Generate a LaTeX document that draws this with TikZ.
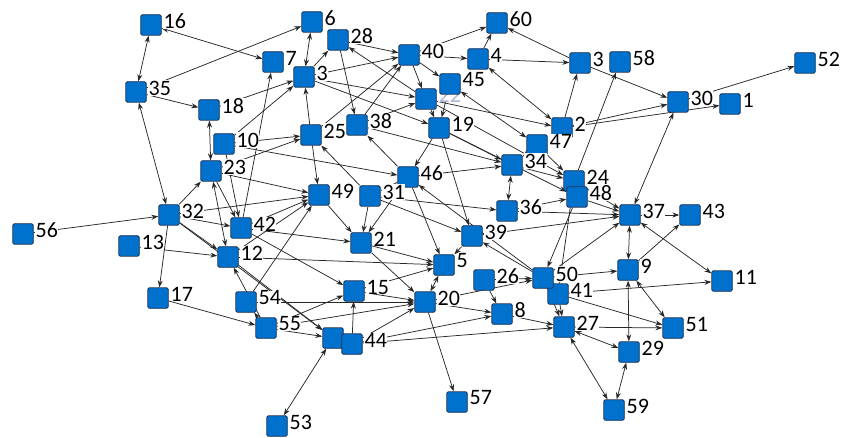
\documentclass[tikz,border=0pt]{standalone}
\usepackage{fontspec}
\setmainfont{Carlito}
\usetikzlibrary{arrows.meta}
\pgfdeclarelayer{bg}
\pgfsetlayers{bg,main}
\definecolor{nodeblue}{RGB}{0,114,206}
\definecolor{nodeedge}{RGB}{30,50,80}
\definecolor{edgecol}{RGB}{40,40,40}
\definecolor{faint}{RGB}{170,185,210}
\newcommand\nd[4]{\node[sq,label={[lab]0:#4}] (#1) at (#2,#3) {};}
\begin{document}
\begin{tikzpicture}[x=1pt,y=-1pt,
  sq/.style={draw=nodeedge,fill=nodeblue,line width=0.8pt,rounded corners=1.5pt,minimum size=20.5pt,inner sep=0pt},
  lab/.style={font=\fontsize{22}{24}\selectfont,inner sep=0.3pt,fill=white,yshift=4pt,xshift=1.5pt},
  e/.style={draw=edgecol,line width=0.75pt,-{Stealth[length=7pt,width=5pt]}},
  ee/.style={draw=edgecol,line width=0.75pt,{Stealth[length=7pt,width=5pt]}-{Stealth[length=7pt,width=5pt]}}]
\useasboundingbox (0,0) rectangle (848,438);
\nd{n16}{151}{25}{16}
\nd{n6}{312}{22}{6}
\nd{n28}{338}{40}{28}
\nd{n40}{409}{55}{40}
\nd{n60}{497}{23}{60}
\nd{n4}{478}{59}{4}
\nd{n3b}{580}{63}{3}
\nd{n58}{620}{62}{58}
\nd{n52}{805}{63}{52}
\nd{n30}{678}{102}{30}
\nd{n1}{730}{104}{1}
\nd{n35}{136}{92}{35}
\nd{n7}{273}{62}{7}
\nd{n3}{304}{77}{3}
\nd{n18}{209}{110}{18}
\node[sq,label={[lab,text=faint]0:22}] (n22) at (426,99) {};
\nd{n45}{450}{84}{45}
\nd{n19}{439}{128}{19}
\nd{n2}{562}{128}{2}
\nd{n47}{537}{145}{47}
\nd{n10}{224}{144}{10}
\nd{n25}{311}{135}{25}
\nd{n38}{357}{125}{38}
\nd{n23}{211}{171}{23}
\nd{n46}{408}{177}{46}
\nd{n34}{512}{165}{34}
\nd{n24}{574}{181}{24}
\nd{n48}{577}{197}{48}
\nd{n36}{507}{211}{36}
\nd{n37}{630}{215}{37}
\nd{n43}{690}{215}{43}
\nd{n49}{319}{195}{49}
\nd{n31}{370}{196}{31}
\nd{n32}{169}{215}{32}
\nd{n42}{241}{228}{42}
\nd{n56}{23}{234}{56}
\nd{n13}{129}{246}{13}
\nd{n12}{228}{257}{12}
\nd{n21}{361}{243}{21}
\nd{n39}{472}{236}{39}
\nd{n5}{444}{265}{5}
\nd{n9}{628}{270}{9}
\nd{n11}{722}{281}{11}
\nd{n26}{484}{280}{26}
\nd{n41}{558}{294}{41}
\nd{n50}{543}{278}{50}
\nd{n15}{354}{291}{15}
\nd{n17}{158}{298}{17}
\nd{n54}{246}{302}{54}
\nd{n20}{425}{302}{20}
\nd{n8}{502}{314}{8}
\nd{n27}{564}{327}{27}
\nd{n51}{673}{328}{51}
\nd{n55}{266}{328}{55}
\node[sq] (n44b) at (333,338) {};
\nd{n44}{352}{344}{44}
\nd{n29}{629}{352}{29}
\nd{n57}{457}{402}{57}
\nd{n59}{614}{410}{59}
\nd{n53}{277}{426}{53}
\begin{pgfonlayer}{bg}
\foreach \a/\b in {n16/n35,n16/n7,n35/n32,n18/n23,n3/n6,n40/n4,n4/n2,n23/n12,n53/n44b,n27/n59,n27/n29,n29/n59,n9/n29,n9/n51,n9/n37,n37/n11,n37/n30,n34/n36,n5/n20,n45/n47}
  \draw[ee] (\a) -- (\b);
\foreach \a/\b in {n35/n18,n35/n6,n18/n3,n42/n7,n10/n3,n10/n25,n23/n25,n25/n3,n3/n28,n3/n40,n28/n40,n28/n38,n22/n28,n3/n22,n3/n19,n38/n22,n25/n40,n38/n40,n4/n60,n40/n60,n3b/n60,n4/n3b,n2/n3b,n40/n45,n40/n22,n45/n19,n22/n19,n22/n2,n19/n34,n24/n58,n2/n30,n3b/n30,n30/n52,n2/n1,n23/n49,n23/n42,n32/n23,n32/n12,n32/n42,n56/n32,n13/n12,n32/n17,n32/n44b,n17/n55,n42/n49,n12/n49,n42/n21,n10/n42,n12/n5,n42/n15,n54/n49,n55/n12,n49/n21,n25/n49,n31/n25,n31/n21,n10/n46,n21/n5,n21/n20,n54/n20,n55/n20,n55/n44b,n55/n15,n44/n15,n44/n20,n55/n54,n44/n8,n44/n27,n20/n8,n20/n57,n20/n50,n26/n8,n50/n27,n41/n27,n8/n27,n27/n51,n41/n51,n41/n11,n37/n43,n9/n43,n50/n9,n39/n37,n36/n37,n48/n37,n24/n37,n50/n37,n46/n34,n47/n24,n47/n34,n34/n24,n36/n48,n48/n50,n39/n5,n46/n5,n19/n39,n50/n46,n26/n50,n50/n39,n15/n5,n15/n20,n31/n39,n22/n24,n19/n48,n38/n34,n46/n38,n31/n36,n32/n49,n12/n44b,n41/n24,n19/n46,n46/n31,n46/n21}
  \draw[e] (\a) -- (\b);
\end{pgfonlayer}
\end{tikzpicture}
\end{document}
